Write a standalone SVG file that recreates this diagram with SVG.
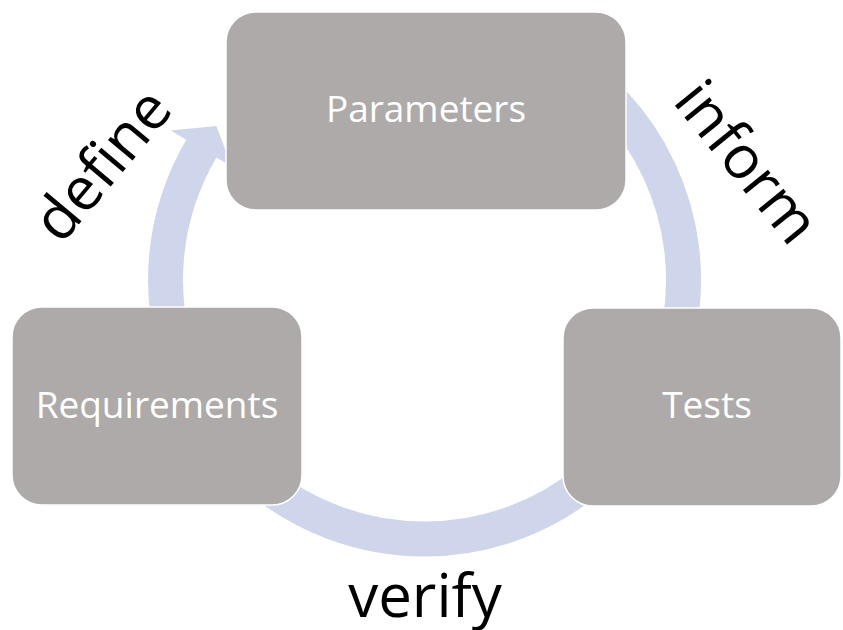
<svg xmlns="http://www.w3.org/2000/svg" width="843" height="630" viewBox="0 0 843 630">
  <style>
    .band { fill: none; stroke: #CFD5EA; stroke-width: 35; }
    .head { fill: #CFD5EA; stroke: none; }
    .box { fill: #AEAAAA; stroke: #FFFFFF; stroke-width: 1.5; }
    .boxtext { font-family: "Open Sans", "Liberation Sans", sans-serif; font-size: 37px; fill: #FFFFFF; text-anchor: middle; }
    .label { font-family: "Open Sans", "Liberation Sans", sans-serif; font-size: 60px; fill: #000000; text-anchor: middle; }
  </style>
  <rect width="843" height="630" fill="#FFFFFF"/>
  <g id="connectors">
    <path id="define-arc" class="head" d="M164.7,374.6 A276.5,276.5 0 0 1 186.3,139.7 L170.8,130.5 L216.3,125.9 L231.9,166.6 L216.4,157.4 A241.5,241.5 0 0 0 197.6,362.6 Z"/>
    <path id="inform-arc" class="band" d="M554,55.7 A259,259 0 0 1 679.6,325"/>
    <path id="verify-arc" class="band" d="M591,478.4 A259,259 0 0 1 258,478.4"/>
    <text class="label" transform="translate(118,178) rotate(-50)">define</text>
    <text class="label" transform="translate(731,175) rotate(51)">inform</text>
    <text class="label" x="425" y="617">verify</text>
  </g>
  <g id="parameters">
    <rect class="box" x="226" y="12" width="400" height="198" rx="30" ry="30"/>
    <text class="boxtext" x="426" y="122">Parameters</text>
  </g>
  <g id="requirements">
    <rect class="box" x="12" y="307" width="290" height="198" rx="30" ry="30"/>
    <text class="boxtext" x="157" y="418">Requirements</text>
  </g>
  <g id="tests">
    <rect class="box" x="563" y="308" width="278" height="198" rx="30" ry="30"/>
    <text class="boxtext" x="707" y="418">Tests</text>
  </g>
</svg>
